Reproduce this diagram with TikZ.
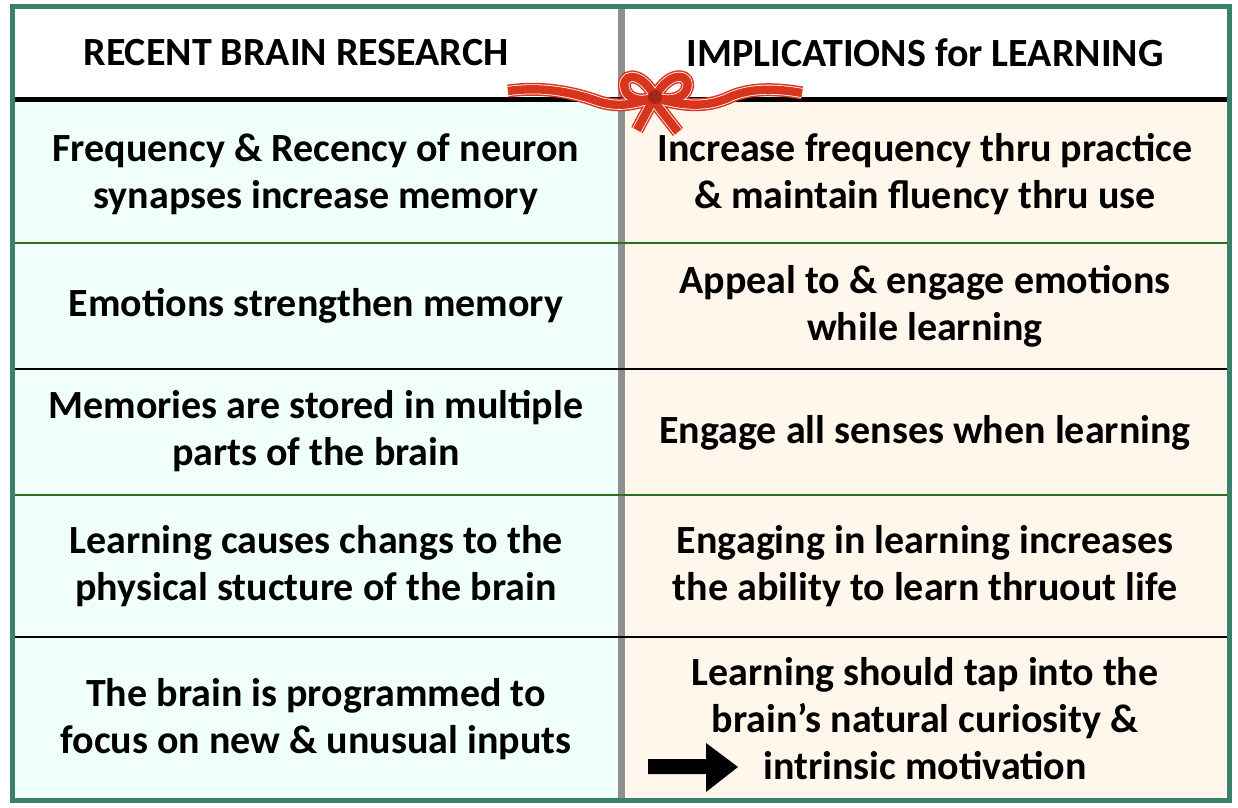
\documentclass[tikz,border=0pt]{standalone}
\usepackage{fontspec}
\setmainfont{Carlito}
\definecolor{frame}{HTML}{3B7F6D}
\definecolor{mint}{HTML}{F0FFF9}
\definecolor{cream}{HTML}{FFF6EC}
\definecolor{divgray}{HTML}{8F8F8F}
\definecolor{rowgreen}{HTML}{2E6E1E}
\definecolor{ribred}{HTML}{D8351F}

\begin{document}
\begin{tikzpicture}[x=0.5pt,y=-0.5pt,
    txt/.style={align=center,inner sep=0pt,font=\bfseries\fontsize{20}{23.5}\selectfont},
    rowline/.style={line width=1.25pt}]
    \useasboundingbox (0,0) rectangle (1238,808);
    % cells
    \fill[mint] (15,9) rectangle (621,798);
    \fill[cream] (621,9) rectangle (1227,798);
    \fill[white] (15,9) rectangle (1227,100);
    \draw[divgray,line width=3.5pt] (621.5,9) -- (621.5,798);
    \draw[rowline,rowgreen] (15,243) -- (1227,243) (15,495) -- (1227,495);
    \draw[rowline,black] (15,369) -- (1227,369) (15,637) -- (1227,637);
    \draw[line width=2.5pt] (15,100) -- (1227,100);
    \draw[frame,line width=2.5pt] (12.5,6.5) rectangle (1229.5,800.5);
    % ribbon
    \foreach \w/\c in {6.5/ribred,5/white,4.2/ribred} {
      \draw[line width=\w pt,\c]
        (508,91) .. controls (545,86) and (575,93) .. (600,102)
        .. controls (625,109) and (640,101) .. (655,98)
        .. controls (680,105) and (705,109) .. (730,97)
        .. controls (752,87) and (780,89) .. (802,93);
      \draw[line width=\w pt,\c]
        (637,130) -- (653,100) -- (678,132);
      \draw[line width=\w pt,\c]
        (655,97) .. controls (640,68) and (618,74) .. (626,92)
        .. controls (632,102) and (646,101) .. (655,97)
        .. controls (670,68) and (694,74) .. (686,91)
        .. controls (680,101) and (665,101) .. (655,97);
    }
    \fill[ribred!75!black] (655,97) circle (7);
    % headers
    \node[txt] (resHead) at (296,53) {RECENT BRAIN RESEARCH};
    \node[txt] (impHead) at (925,53) {IMPLICATIONS for LEARNING};
    % rows
    \node[txt] (res1) at (316,174) {Frequency \& Recency of neuron\\synapses increase memory};
    \node[txt] (imp1) at (925,174) {Increase frequency thru practice\\\& maintain fluency thru use};
    \node[txt] (res2) at (316,306) {Emotions strengthen memory};
    \node[txt] (imp2) at (925,306) {Appeal to \& engage emotions\\while learning};
    \node[txt] (res3) at (316,431) {Memories are stored in multiple\\parts of the brain};
    \node[txt] (imp3) at (925,433) {Engage all senses when learning};
    \node[txt] (res4) at (316,566) {Learning causes changs to the\\physical stucture of the brain};
    \node[txt] (imp4) at (925,566) {Engaging in learning increases\\the ability to learn thruout life};
    \node[txt] (res5) at (316,719) {The brain is programmed to\\focus on new \& unusual inputs};
    \node[txt] (imp5) at (925,719) {Learning should tap into the\\brain’s natural curiosity \&\\intrinsic motivation};
    % arrow
    \fill (648,759) -- (706,759) -- (706,743) -- (738,767) -- (706,792) -- (706,774) -- (648,774) -- cycle;
\end{tikzpicture}
\end{document}
